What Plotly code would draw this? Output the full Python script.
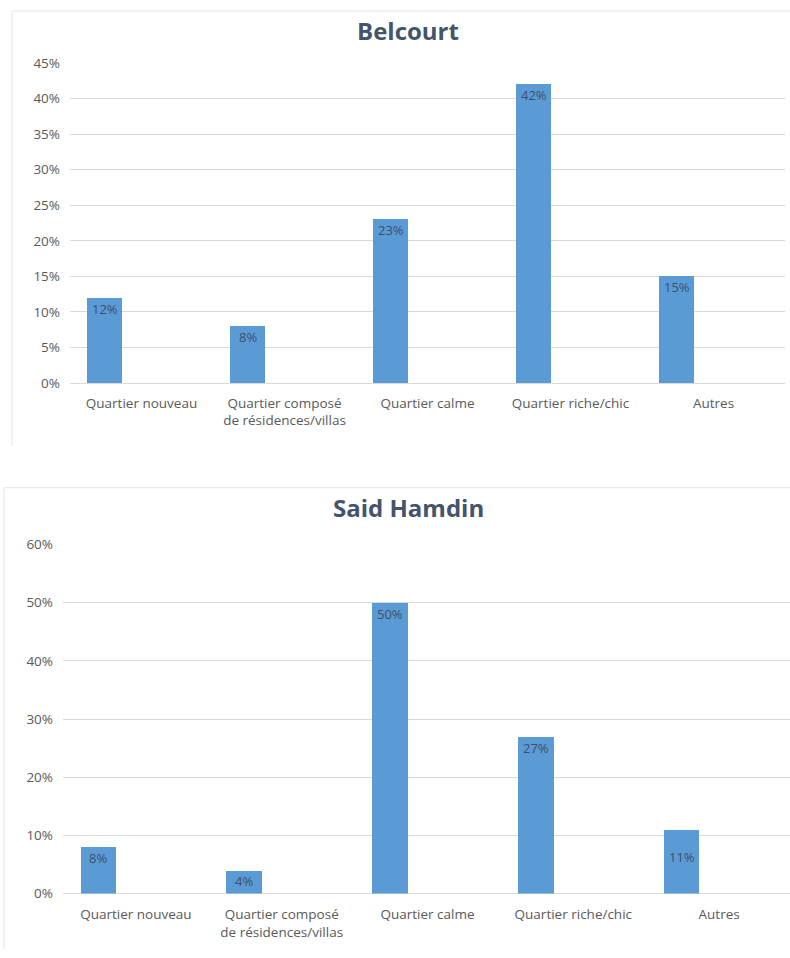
import plotly.graph_objects as go

# Survey answers per neighbourhood type
categories = [
    "Quartier nouveau",
    "Quartier composé<br>de résidences/villas",
    "Quartier calme",
    "Quartier riche/chic",
    "Autres",
]
belcourt_values = [0.12, 0.08, 0.23, 0.42, 0.15]
said_hamdin_values = [0.08, 0.04, 0.50, 0.27, 0.11]

W, H = 790, 958
# vertical placement correction for the captured page
Y_OFF, Y_SCALE = 7.9, 0.984

FONT = "Open Sans"
BAR_COLOR = "#5B9BD5"
GRID = "#D9D9D9"
TICK = "#595959"
TITLE_COLOR = "#44546A"
LABEL_COLOR = "#3E4F6B"
BORDER = "#E4E4E4"

BAR_WIDTH = 0.245
BAR_OFFSET = -0.38

# plot-area geometry in page pixels (left, right, top, bottom)
top_area = (70, 785, 62, 383)
bot_area = (63, 790, 545, 895)
bot_full_right = 792  # category band continues slightly past the page edge


def px(x):
    return min(1.0, max(0.0, x / W))


def py(y):
    return min(1.0, max(0.0, 1 - (y - Y_OFF) / Y_SCALE / H))


def xdom(a):
    return [px(a[0]), px(a[1])]


def ydom(a):
    return [py(a[3]), py(a[2])]


fig = go.Figure()

fig.add_trace(go.Bar(
    x=categories, y=belcourt_values, xaxis="x", yaxis="y",
    width=BAR_WIDTH, offset=BAR_OFFSET,
    marker=dict(color=BAR_COLOR, line=dict(width=0)),
    hoverinfo="x+y", showlegend=False,
))
fig.add_trace(go.Bar(
    x=categories, y=said_hamdin_values, xaxis="x2", yaxis="y2",
    width=BAR_WIDTH, offset=BAR_OFFSET,
    marker=dict(color=BAR_COLOR, line=dict(width=0)),
    hoverinfo="x+y", showlegend=False,
))

n = len(categories)
bot_range_end = -0.5 + n * (bot_area[1] - bot_area[0]) / (bot_full_right - bot_area[0])

axis_common = dict(
    type="category", showgrid=False, zeroline=False, showline=False, ticks="",
    tickfont=dict(family=FONT, size=13.5, color=TICK),
    fixedrange=True,
)
yaxis_common = dict(
    tickformat=".0%", showgrid=True, gridcolor=GRID, gridwidth=1,
    zeroline=True, zerolinecolor=GRID, zerolinewidth=1, showline=False, ticks="",
    tickfont=dict(family=FONT, size=13.5, color=TICK), ticklabelstandoff=9,
    fixedrange=True,
)

fig.update_layout(
    width=W, height=H,
    margin=dict(l=0, r=0, t=0, b=0),
    paper_bgcolor="white", plot_bgcolor="white",
    xaxis=dict(domain=xdom(top_area), range=[-0.5, n - 0.5], anchor="y",
               ticklabelstandoff=10, **axis_common),
    yaxis=dict(domain=ydom(top_area), range=[0, 0.45], dtick=0.05, anchor="x", **yaxis_common),
    xaxis2=dict(domain=xdom(bot_area), range=[-0.5, bot_range_end], anchor="y2",
                ticklabelstandoff=11, **axis_common),
    yaxis2=dict(domain=ydom(bot_area), range=[0, 0.6], dtick=0.1, anchor="x2", **yaxis_common),
    bargap=0,
)

# chart frames (left and top edges)
frames = [(12, 10, 446), (4, 488, 958)]
for left, top, bottom in frames:
    fig.add_shape(type="line", xref="paper", yref="paper",
                  x0=px(left), x1=1.0, y0=py(top), y1=py(top),
                  line=dict(color=BORDER, width=1))
    fig.add_shape(type="line", xref="paper", yref="paper",
                  x0=px(left), x1=px(left), y0=py(top), y1=py(bottom),
                  line=dict(color=BORDER, width=1))

# chart titles
titles = [("Belcourt", 29), ("Said Hamdin", 508)]
for text, cy in titles:
    fig.add_annotation(
        text=f"<b>{text}</b>", xref="paper", yref="paper",
        x=px(408), y=py(cy), xanchor="center", yanchor="middle",
        showarrow=False, font=dict(family=FONT, size=24, color=TITLE_COLOR),
    )

# value labels just inside the top of each bar
label_drop = {("y2", "Autres"): 27}
panels = [
    ("x", "y", belcourt_values, (top_area[1] - top_area[0]) / n),
    ("x2", "y2", said_hamdin_values, (bot_full_right - bot_area[0]) / n),
]
for xr, yr, vals, cat_px in panels:
    shift = (BAR_OFFSET + BAR_WIDTH / 2) * cat_px
    for cat, v in zip(categories, vals):
        drop = label_drop.get((yr, cat), 11)
        fig.add_annotation(
            x=cat, y=v, xref=xr, yref=yr, text=f"{round(v * 100)}%",
            showarrow=False, xanchor="center", yanchor="middle",
            xshift=shift, yshift=-drop,
            font=dict(family=FONT, size=13, color=LABEL_COLOR),
        )

fig.write_html("out.html")
